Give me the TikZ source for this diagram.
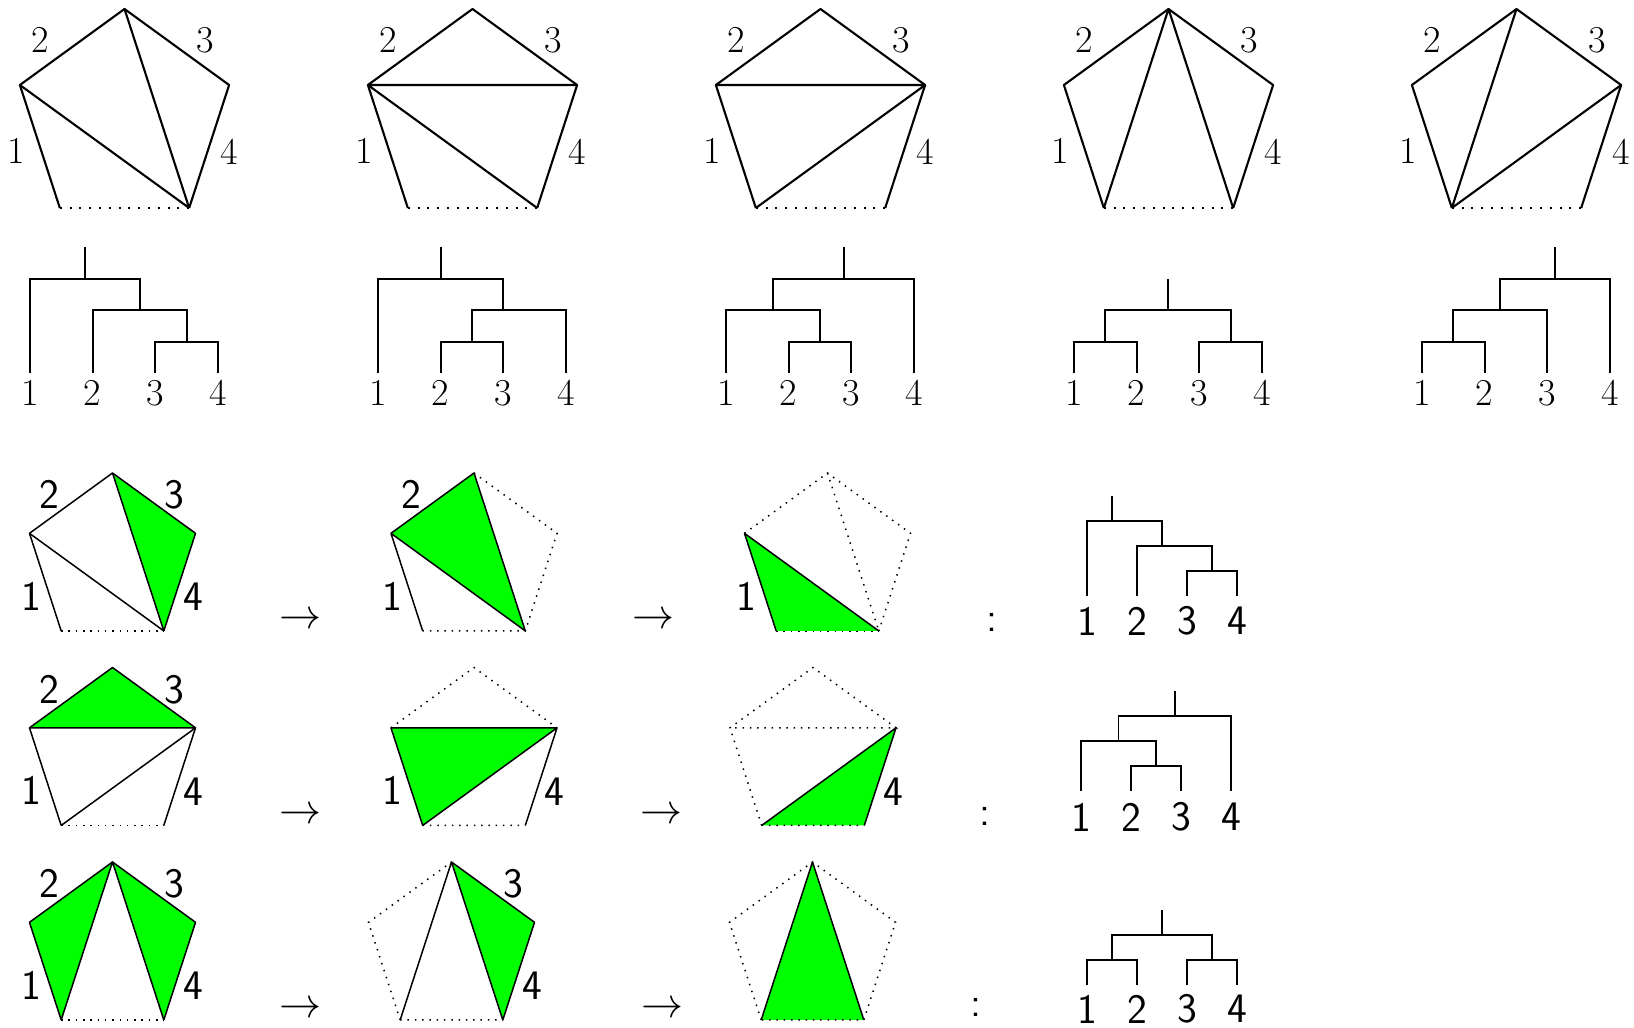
\documentclass[tikz,border=0pt]{standalone}
\usetikzlibrary{calc}
\definecolor{tgreen}{RGB}{0,255,0}
\tikzset{
  sedge/.style={line width=1.05pt, line join=round},
  dedge/.style={line width=1.05pt, dash pattern=on 1pt off 3.9pt},
  ledge/.style={line width=0.75pt, line join=round},
  ldot/.style={line width=0.75pt, dash pattern=on 0.75pt off 2.9pt},
  gfill/.style={fill=tgreen},
  toplab/.style={inner sep=0pt, font=\fontsize{19}{23}\selectfont},
  lowlab/.style={inner sep=0pt, font=\sffamily\fontsize{21}{25}\selectfont},
  arrlab/.style={inner sep=0pt, font=\normalsize},
  ttree/.style={line width=1pt},
  ltree/.style={line width=0.75pt},
}
\newcommand{\arr}{\scalebox{2.1}{$\rightarrow$}}
\newcommand{\mkpent}[4]{%
  \coordinate (#1T) at ({#2},{#3-#4});
  \coordinate (#1L) at ({#2-0.95106*#4},{#3-0.30902*#4});
  \coordinate (#1R) at ({#2+0.95106*#4},{#3-0.30902*#4});
  \coordinate (#1A) at ({#2-0.58779*#4},{#3+0.80902*#4});
  \coordinate (#1B) at ({#2+0.58779*#4},{#3+0.80902*#4});
}
\newcommand{\toplabels}[2]{%
  \node[toplab] (#1n1) at ({#2-108.5},151) {1};
  \node[toplab] (#1n2) at ({#2-84.5},40) {2};
  \node[toplab] (#1n3) at ({#2+80.5},40) {3};
  \node[toplab] (#1n4) at ({#2+105},152) {4};
}
\newcommand{\mkleaves}[6]{% prefix, x1, y0, dx, label y, style
  \coordinate (#1l1) at ({#2},{#3});
  \coordinate (#1l2) at ({#2+#4},{#3});
  \coordinate (#1l3) at ({#2+2*#4},{#3});
  \coordinate (#1l4) at ({#2+3*#4},{#3});
  \node[#6] (#1t1) at ({#2},{#5}) {1};
  \node[#6] (#1t2) at ({#2+#4},{#5}) {2};
  \node[#6] (#1t3) at ({#2+2*#4},{#5}) {3};
  \node[#6] (#1t4) at ({#2+3*#4},{#5}) {4};
}
\begin{document}
\begin{tikzpicture}[x=0.5pt,y=-0.5pt]
\useasboundingbox (0,0) rectangle (1634,1028);

% ---------------- top row: pentagons ----------------
\mkpent{P1}{124.5}{119}{110}
\mkpent{P2}{472.5}{119}{110}
\mkpent{P3}{820.5}{119}{110}
\mkpent{P4}{1168.5}{119}{110}
\mkpent{P5}{1516.5}{119}{110}
\foreach \p in {P1,P2,P3,P4,P5}{
  \draw[sedge] (\p A) -- (\p L) -- (\p T) -- (\p R) -- (\p B);
  \draw[dedge] (\p A) -- (\p B);
}
\draw[sedge] (P1L) -- (P1B) (P1T) -- (P1B);
\draw[sedge] (P2L) -- (P2R) (P2L) -- (P2B);
\draw[sedge] (P3L) -- (P3R) (P3R) -- (P3A);
\draw[sedge] (P4T) -- (P4A) (P4T) -- (P4B);
\draw[sedge] (P5T) -- (P5A) (P5R) -- (P5A);
\toplabels{P1}{124.5}
\toplabels{P2}{472.5}
\toplabels{P3}{820.5}
\toplabels{P4}{1168.5}
\toplabels{P5}{1516.5}

% ---------------- top row: trees ----------------
\mkleaves{T1}{30}{373}{62.7}{393}{toplab}
\coordinate (T1n34) at (186.75,341.6);
\coordinate (T1n234) at (139.7,310.2);
\coordinate (T1r) at (84.9,278.8);
\coordinate (T1top) at (84.9,247.4);
\draw[ttree] (T1l3) |- (T1n34) -| (T1l4);
\draw[ttree] (T1l2) |- (T1n234) -| (T1n34);
\draw[ttree] (T1l1) |- (T1r) -| (T1n234);
\draw[ttree] (T1r) -- (T1top);

\mkleaves{T2}{378}{373}{62.7}{393}{toplab}
\coordinate (T2n23) at (472.05,341.6);
\coordinate (T2n234) at (503.4,310.2);
\coordinate (T2r) at (440.7,278.8);
\coordinate (T2top) at (440.7,247.4);
\draw[ttree] (T2l2) |- (T2n23) -| (T2l3);
\draw[ttree] (T2n23) |- (T2n234) -| (T2l4);
\draw[ttree] (T2l1) |- (T2r) -| (T2n234);
\draw[ttree] (T2r) -- (T2top);

\mkleaves{T3}{726}{373}{62.7}{393}{toplab}
\coordinate (T3n23) at (820.05,341.6);
\coordinate (T3n123) at (773.0,310.2);
\coordinate (T3r) at (843.6,278.8);
\coordinate (T3top) at (843.6,247.4);
\draw[ttree] (T3l2) |- (T3n23) -| (T3l3);
\draw[ttree] (T3l1) |- (T3n123) -| (T3n23);
\draw[ttree] (T3n123) |- (T3r) -| (T3l4);
\draw[ttree] (T3r) -- (T3top);

\mkleaves{T4}{1074}{373}{62.7}{393}{toplab}
\coordinate (T4n12) at (1105.35,341.6);
\coordinate (T4n34) at (1230.75,341.6);
\coordinate (T4r) at (1168.05,310.2);
\coordinate (T4top) at (1168.05,278.8);
\draw[ttree] (T4l1) |- (T4n12) -| (T4l2);
\draw[ttree] (T4l3) |- (T4n34) -| (T4l4);
\draw[ttree] (T4n12) |- (T4r) -| (T4n34);
\draw[ttree] (T4r) -- (T4top);

\mkleaves{T5}{1422}{373}{62.7}{393}{toplab}
\coordinate (T5n12) at (1453.35,341.6);
\coordinate (T5n123) at (1500.4,310.2);
\coordinate (T5r) at (1555.25,278.8);
\coordinate (T5top) at (1555.25,247.4);
\draw[ttree] (T5l1) |- (T5n12) -| (T5l2);
\draw[ttree] (T5n12) |- (T5n123) -| (T5l3);
\draw[ttree] (T5n123) |- (T5r) -| (T5l4);
\draw[ttree] (T5r) -- (T5top);

% ---------------- row A ----------------
\mkpent{A1}{112.5}{560.3}{87.3}
\mkpent{A2}{474}{560.3}{87.3}
\mkpent{A3}{827.5}{560.3}{87.3}
% A1
\fill[gfill] (A1T) -- (A1R) -- (A1B) -- cycle;
\draw[ledge] (A1A) -- (A1L) -- (A1T) -- (A1R) -- (A1B);
\draw[ldot] (A1A) -- (A1B);
\draw[ledge] (A1L) -- (A1B) (A1T) -- (A1B);
\node[lowlab] (A1n1) at ({112.5-81.5},596) {1};
\node[lowlab] (A1n2) at ({112.5-63},494.8) {2};
\node[lowlab] (A1n3) at ({112.5+62},494.8) {3};
\node[lowlab] (A1n4) at ({112.5+80.5},597) {4};
\node[arrlab] (Aar1) at (300,621) {\arr};
% A2
\fill[gfill] (A2L) -- (A2T) -- (A2B) -- cycle;
\draw[ldot] (A2T) -- (A2R) -- (A2B) -- (A2A);
\draw[ledge] (A2A) -- (A2L) -- (A2T) -- (A2B) -- (A2L);
\node[lowlab] (A2n1) at ({474-81.5},596) {1};
\node[lowlab] (A2n2) at ({474-63},494.8) {2};
\node[arrlab] (Aar2) at (653,621) {\arr};
% A3
\draw[ldot] (A3A) -- (A3B);
\fill[gfill] (A3L) -- (A3A) -- (A3B) -- cycle;
\draw[ldot] (A3L) -- (A3T) -- (A3R) -- (A3B) (A3T) -- (A3B);
\draw[ledge] (A3A) -- (A3L) -- (A3B);
\node[lowlab] (A3n1) at ({827.5-81.5},596) {1};
\node[lowlab] (Acol) at (992,622) {:};
% tree A
\mkleaves{TA}{1087}{596}{50}{621}{lowlab}
\coordinate (TAn34) at (1212,571);
\coordinate (TAn234) at (1162,546);
\coordinate (TAr) at (1112,521);
\coordinate (TAtop) at (1112,496);
\draw[ltree] (TAl3) |- (TAn34) -| (TAl4);
\draw[ltree] (TAl2) |- (TAn234) -| (TAn34);
\draw[ltree] (TAl1) |- (TAr) -| (TAn234);
\draw[ltree] (TAr) -- (TAtop);

% ---------------- row B ----------------
\mkpent{B1}{112.5}{754.8}{87.3}
\mkpent{B2}{474}{754.8}{87.3}
\mkpent{B3}{813}{754.8}{87.3}
% B1
\fill[gfill] (B1L) -- (B1T) -- (B1R) -- cycle;
\draw[ledge] (B1A) -- (B1L) -- (B1T) -- (B1R) -- (B1B);
\draw[ldot] (B1A) -- (B1B);
\draw[ledge] (B1L) -- (B1R) -- (B1A);
\node[lowlab] (B1n1) at ({112.5-81.5},790.5) {1};
\node[lowlab] (B1n2) at ({112.5-63},689.3) {2};
\node[lowlab] (B1n3) at ({112.5+62},689.3) {3};
\node[lowlab] (B1n4) at ({112.5+80.5},791.5) {4};
\node[arrlab] (Bar1) at (300,816) {\arr};
% B2
\fill[gfill] (B2L) -- (B2R) -- (B2A) -- cycle;
\draw[ldot] (B2L) -- (B2T) -- (B2R) (B2A) -- (B2B);
\draw[ledge] (B2A) -- (B2L) -- (B2R) -- (B2A) (B2R) -- (B2B);
\node[lowlab] (B2n1) at ({474-81.5},790.5) {1};
\node[lowlab] (B2n4) at ({474+80.5},791.5) {4};
\node[arrlab] (Bar2) at (661,816) {\arr};
% B3
\fill[gfill] (B3A) -- (B3R) -- (B3B) -- cycle;
\draw[ldot] (B3A) -- (B3L) -- (B3T) -- (B3R) -- (B3L) (B3A) -- (B3B);
\draw[ledge] (B3A) -- (B3R) -- (B3B);
\node[lowlab] (B3n4) at ({813+80.5},791.5) {4};
\node[lowlab] (Bcol) at (985,816) {:};
% tree B
\mkleaves{TB}{1081}{791}{50}{817}{lowlab}
\coordinate (TBn23) at (1156,766);
\coordinate (TBn123) at (1118.5,741);
\coordinate (TBr) at (1174.75,716);
\coordinate (TBtop) at (1174.75,691);
\draw[ltree] (TBl2) |- (TBn23) -| (TBl3);
\draw[ltree] (TBl1) |- (TBn123) -| (TBn23);
\draw[ltree] (TBn123) |- (TBr) -| (TBl4);
\draw[ltree] (TBr) -- (TBtop);

% ---------------- row C ----------------
\mkpent{C1}{112.5}{949.3}{87.3}
\mkpent{C2}{451.5}{949.3}{87.3}
\mkpent{C3}{812.5}{949.3}{87.3}
% C1
\fill[gfill] (C1L) -- (C1T) -- (C1A) -- cycle;
\fill[gfill] (C1T) -- (C1R) -- (C1B) -- cycle;
\draw[ledge] (C1A) -- (C1L) -- (C1T) -- (C1R) -- (C1B);
\draw[ldot] (C1A) -- (C1B);
\draw[ledge] (C1A) -- (C1T) -- (C1B);
\node[lowlab] (C1n1) at ({112.5-81.5},985) {1};
\node[lowlab] (C1n2) at ({112.5-63},883.8) {2};
\node[lowlab] (C1n3) at ({112.5+62},883.8) {3};
\node[lowlab] (C1n4) at ({112.5+80.5},986) {4};
\node[arrlab] (Car1) at (300,1010) {\arr};
% C2
\fill[gfill] (C2T) -- (C2R) -- (C2B) -- cycle;
\draw[ldot] (C2A) -- (C2L) -- (C2T) (C2A) -- (C2B);
\draw[ledge] (C2A) -- (C2T) -- (C2R) -- (C2B) -- (C2T);
\node[lowlab] (C2n3) at ({451.5+62},883.8) {3};
\node[lowlab] (C2n4) at ({451.5+80.5},986) {4};
\node[arrlab] (Car2) at (662,1010) {\arr};
% C3
\fill[gfill] (C3T) -- (C3A) -- (C3B) -- cycle;
\draw[ldot] (C3A) -- (C3L) -- (C3T) -- (C3R) -- (C3B) -- (C3A);
\draw[ledge] (C3A) -- (C3T) -- (C3B);
\node[lowlab] (Ccol) at (976,1007) {:};
% tree C
\mkleaves{TC}{1087}{985}{50}{1009}{lowlab}
\coordinate (TCn12) at (1112,960);
\coordinate (TCn34) at (1212,960);
\coordinate (TCr) at (1162,935);
\coordinate (TCtop) at (1162,910);
\draw[ltree] (TCl1) |- (TCn12) -| (TCl2);
\draw[ltree] (TCl3) |- (TCn34) -| (TCl4);
\draw[ltree] (TCn12) |- (TCr) -| (TCn34);
\draw[ltree] (TCr) -- (TCtop);
\end{tikzpicture}
\end{document}
